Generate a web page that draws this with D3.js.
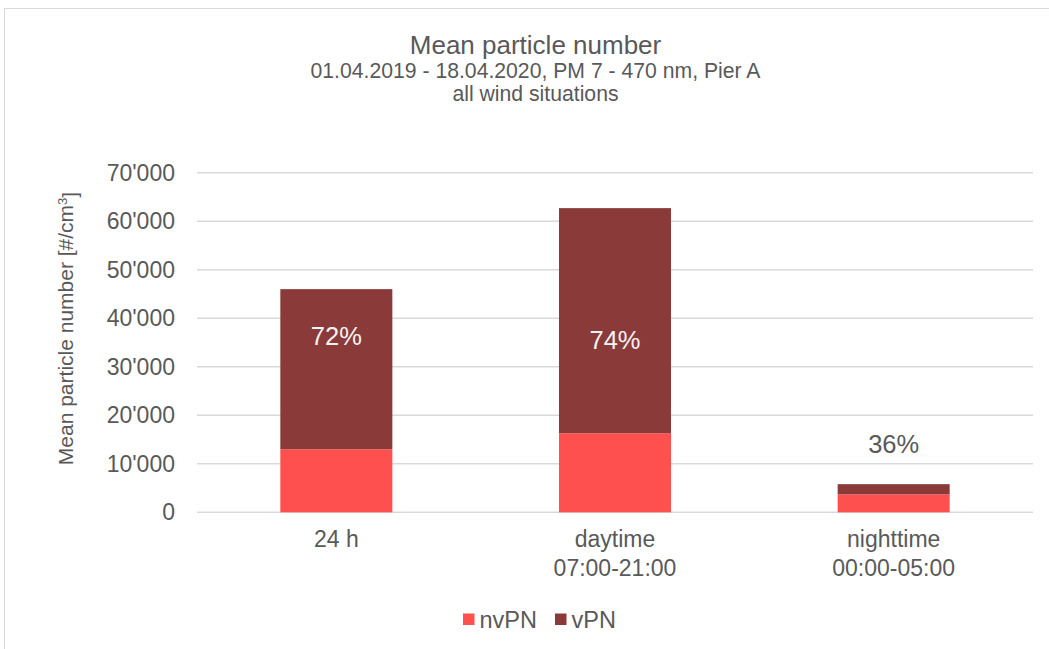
<!DOCTYPE html>
<html>
<head>
<meta charset="utf-8">
<script src="https://cdn.jsdelivr.net/npm/d3@7"></script>
<style>
  html, body { margin: 0; padding: 0; background: #fff; }
  svg { display: block; font-family: "Liberation Sans", Arial, sans-serif; }
</style>
</head>
<body>
<svg id="chart" width="1049" height="649"></svg>
<script>
// Period categories (second line of each label is the time window)
const categories = ["24 h", "daytime", "nighttime"];
const categoryWindows = ["", "07:00-21:00", "00:00-05:00"];

// Mean particle number per period [#/cm3]
const nvPN = [13000, 16300, 3700];   // non-volatile particles
const vPN  = [33000, 46400, 2100];   // volatile particles

// y-axis ticks
const yTicks = [0, 10000, 20000, 30000, 40000, 50000, 60000, 70000];

// Level at which each volatile-share label is centred [#/cm3]
const shareLabelAt = [36300, 35600, 14100];

const seriesNames = ["nvPN", "vPN"];
const colors = { nvPN: "#FF5050", vPN: "#8B3A3A" };
const textColor = "#595959";

const svg = d3.select("#chart");

// Outer chart frame
svg.append("rect")
  .attr("x", 4.5).attr("y", 8.5)
  .attr("width", 1200).attr("height", 800)
  .attr("fill", "#fff").attr("stroke", "#d9d9d9").attr("stroke-width", 1);

const plot = { left: 197, right: 1033, top: 172.7, bottom: 512.3 };

const x = d3.scaleBand()
  .domain(categories)
  .range([plot.left, plot.right])
  .paddingInner(0.598)
  .paddingOuter(0.299);

const y = d3.scaleLinear()
  .domain([0, 70000])
  .range([plot.bottom, plot.top]);

const loc = d3.formatLocale({ decimal: ".", thousands: "'", grouping: [3], currency: ["", ""] });
const fmt = loc.format(",");

// Horizontal gridlines
svg.append("g")
  .selectAll("line")
  .data(yTicks)
  .join("line")
  .attr("x1", plot.left).attr("x2", plot.right)
  .attr("y1", d => y(d)).attr("y2", d => y(d))
  .attr("stroke", "#d9d9d9").attr("stroke-width", 1.5);

// Y axis labels
const yAxis = svg.append("g")
  .attr("transform", `translate(${plot.left},0)`)
  .call(d3.axisLeft(y).tickValues(yTicks).tickFormat(fmt).tickSize(0).tickPadding(22));
yAxis.select(".domain").remove();
yAxis.selectAll("text")
  .attr("fill", textColor)
  .style("font-size", "23px")
  .style("font-family", "'Liberation Sans', Arial, sans-serif");

// Stacked bars
const rows = categories.map((c, i) => ({ cat: c, nvPN: nvPN[i], vPN: vPN[i] }));
const stacked = d3.stack().keys(seriesNames)(rows);

svg.append("g")
  .selectAll("g")
  .data(stacked)
  .join("g")
  .attr("fill", d => colors[d.key])
  .selectAll("rect")
  .data(d => d)
  .join("rect")
  .attr("x", d => x(d.data.cat))
  .attr("width", x.bandwidth())
  .attr("y", d => y(d[1]))
  .attr("height", d => y(d[0]) - y(d[1]));

// Volatile share labels
svg.append("g")
  .selectAll("text")
  .data(rows)
  .join("text")
  .attr("x", d => x(d.cat) + x.bandwidth() / 2)
  .attr("y", (d, i) => y(shareLabelAt[i]))
  .attr("dy", "0.35em")
  .attr("text-anchor", "middle")
  .attr("fill", (d, i) => y(shareLabelAt[i]) > y(d.nvPN + d.vPN) ? "#F2F2F2" : textColor)
  .style("font-size", "25.5px")
  .text(d => Math.round(100 * d.vPN / (d.nvPN + d.vPN)) + "%");

// Category axis with two-line labels
const xAxis = svg.append("g")
  .attr("transform", `translate(0,${plot.bottom})`)
  .call(d3.axisBottom(x).tickSize(0).tickPadding(0));
xAxis.select(".domain").remove();
xAxis.selectAll("text").remove();
xAxis.selectAll(".tick").each(function(c) {
  const i = categories.indexOf(c);
  const t = d3.select(this).append("text")
    .attr("text-anchor", "middle")
    .attr("fill", textColor)
    .style("font-size", "23px");
  t.append("tspan").attr("x", 0).attr("y", 35).text(c);
  if (categoryWindows[i]) t.append("tspan").attr("x", 0).attr("y", 64).text(categoryWindows[i]);
});

// Y axis title
svg.append("text")
  .attr("transform", `translate(73,${(plot.top + plot.bottom) / 2 - 14}) rotate(-90)`)
  .attr("text-anchor", "middle")
  .attr("fill", textColor)
  .style("font-size", "21px")
  .call(t => {
    t.append("tspan").text("Mean particle number [#/cm");
    t.append("tspan").attr("dy", "-0.45em").style("font-size", "13px").text("3");
    t.append("tspan").attr("dy", "0.45em").text("]");
  });

// Titles
const cx = 535.5;
svg.append("text").attr("x", cx).attr("y", 54).attr("text-anchor", "middle")
  .attr("fill", textColor).style("font-size", "26px").text("Mean particle number");
svg.append("text").attr("x", cx).attr("y", 78).attr("text-anchor", "middle")
  .attr("fill", textColor).style("font-size", "21.2px")
  .text("01.04.2019 - 18.04.2020, PM 7 - 470 nm, Pier A");
svg.append("text").attr("x", cx).attr("y", 101).attr("text-anchor", "middle")
  .attr("fill", textColor).style("font-size", "21.2px").text("all wind situations");

// Legend
const legendX = [463, 555];
const legend = svg.append("g");
seriesNames.forEach((name, i) => {
  legend.append("rect")
    .attr("x", legendX[i]).attr("y", 613.5)
    .attr("width", 11.5).attr("height", 11.5)
    .attr("fill", colors[name]);
  legend.append("text")
    .attr("x", legendX[i] + 16.5).attr("y", 627.5)
    .attr("fill", textColor)
    .style("font-size", "23.5px")
    .text(name);
});
</script>
</body>
</html>
